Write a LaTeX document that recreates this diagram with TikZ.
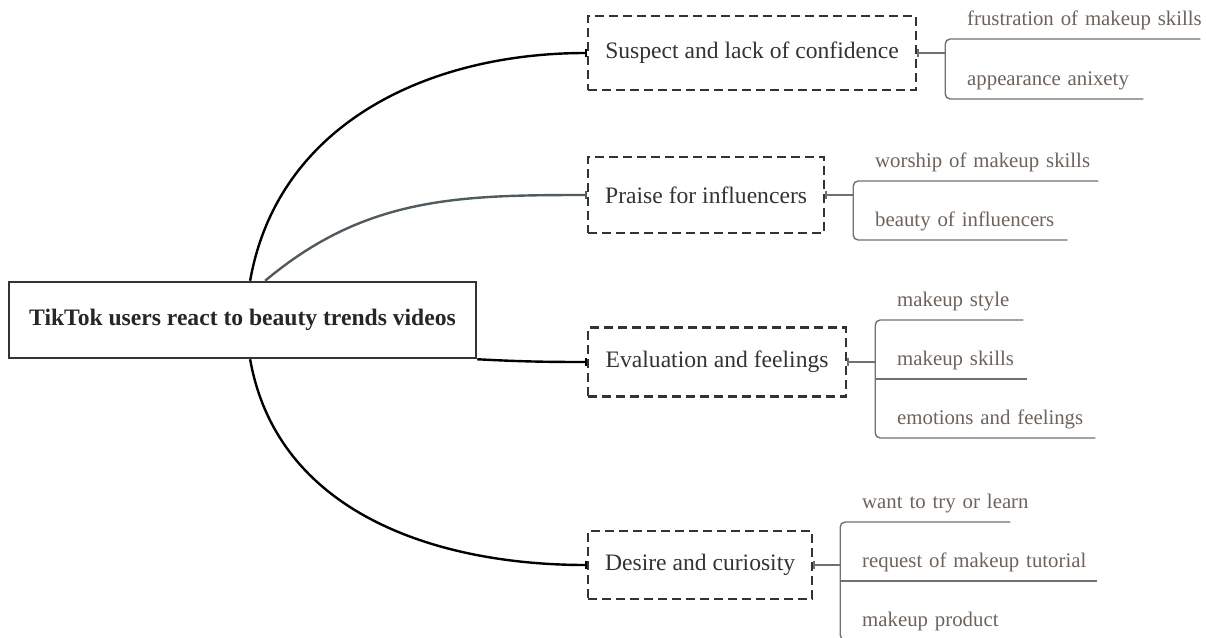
\documentclass[tikz,border=0pt]{standalone}
\usepackage{fontspec}
\setmainfont{Liberation Serif}
\usetikzlibrary{positioning,arrows.meta}
\definecolor{boxgray}{RGB}{51,51,51}
\definecolor{twiggray}{RGB}{112,112,112}
\definecolor{leaftext}{RGB}{110,98,89}
\definecolor{slate}{RGB}{79,91,95}

\begin{document}
\begin{tikzpicture}[x=1pt, y=-1pt,
  root/.style={draw=boxgray, line width=2.5pt, fill=white, minimum width=467pt, minimum height=76pt, font=\fontsize{23.6}{28}\selectfont\bfseries, text=black!85},
  cat/.style={draw=boxgray, line width=2.2pt, dash pattern=on 9pt off 5pt, anchor=west, font=\fontsize{23.6}{28}\selectfont, text=boxgray},
  leaf/.style={anchor=south west, inner xsep=0pt, inner ysep=13pt, text depth=0pt, text width=#1, align=left, font=\fontsize{20.8}{25}\selectfont, text=leaftext, execute at begin node=\hbox\bgroup, execute at end node=\egroup},
  twig/.style={twiggray, line width=1.4pt},
  link/.style={line width=2.4pt, -{Bar[width=8pt,line width=1.6pt]}}]
\useasboundingbox (0,0) rectangle (1206,637);

\node[root] (root) at (242.5,320) {TikTok users react to beauty trends videos};

% categories
\node[cat, minimum width=328pt, minimum height=74pt] (doubt) at (587,53) {Suspect and lack of confidence};
\node[cat, minimum width=236pt, minimum height=76pt] (praise) at (587,195) {Praise for influencers};
\node[cat, minimum width=258pt, minimum height=69pt] (eval) at (587,362) {Evaluation and feelings};
\node[cat, minimum width=224pt, minimum height=68pt] (desire) at (587,565) {Desire and curiosity};

\draw[link] (root.79) to[out=80,in=180] (doubt.west);
\draw[link, slate] (root.60) to[out=40,in=180] (praise.west);
\draw[link] (root.south east) to[out=-3,in=180] (eval.west);
\draw[link] (root.-79) to[out=-80,in=180] (desire.west);

% brackets
\coordinate[right=28pt of doubt] (k1);
\coordinate[right=28pt of praise] (k2);
\coordinate[right=28pt of eval] (k3);
\coordinate[right=27pt of desire] (k4);
\draw[twig, {Bar[width=8pt]}-] (doubt.east) -- (k1);
\draw[twig, {Bar[width=8pt]}-] (praise.east) -- (k2);
\draw[twig, {Bar[width=8pt]}-] (eval.east) -- (k3);
\draw[twig, {Bar[width=8pt]}-] (desire.east) -- (k4);

% leaves
\node[leaf=233pt] (frust) at (967,39) {frustration of makeup skills};
\node[leaf=176pt] (anx) at (967,99) {appearance anixety};
\draw[twig, rounded corners=5pt] (frust.south east) -- (frust.south west -| k1) -- (anx.south west -| k1) -- (anx.south east);

\node[leaf=223pt] (worship) at (875,181) {worship of makeup skills};
\node[leaf=192pt] (beauty) at (875,240) {beauty of influencers};
\draw[twig, rounded corners=5pt] (worship.south east) -- (worship.south west -| k2) -- (beauty.south west -| k2) -- (beauty.south east);

\node[leaf=126pt] (style) at (897,320) {makeup style};
\node[leaf=130pt] (skills) at (897,379) {makeup skills};
\node[leaf=198pt] (emo) at (897,438) {emotions and feelings};
\draw[twig, rounded corners=5pt] (style.south east) -- (style.south west -| k3) -- (emo.south west -| k3) -- (emo.south east);
\draw[twig] (skills.south west -| k3) -- (skills.south east);

\node[leaf=148pt] (try) at (862,522) {want to try or learn};
\node[leaf=235pt] (tutorial) at (862,581) {request of makeup tutorial};
\node[leaf=150pt] (product) at (862,640) {makeup product};
\draw[twig, rounded corners=5pt] (try.south east) -- (try.south west -| k4) -- (product.south west -| k4) -- (product.south east);
\draw[twig] (tutorial.south west -| k4) -- (tutorial.south east);
\end{tikzpicture}
\end{document}
